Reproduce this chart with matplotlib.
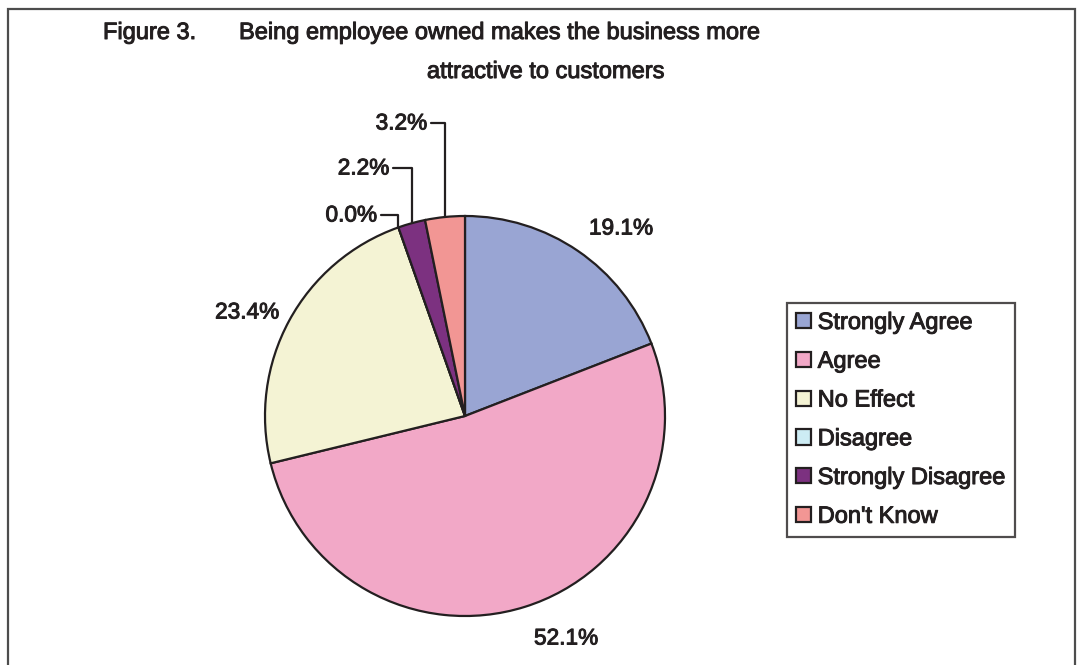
import numpy as np
import matplotlib.pyplot as plt
import matplotlib.patheffects as pe
from matplotlib.patches import Rectangle

plt.rcParams['font.family'] = ['Liberation Sans', 'DejaVu Sans']

categories = ['Strongly Agree', 'Agree', 'No Effect', 'Disagree',
              'Strongly Disagree', "Don't Know"]
shares = [19.1, 52.1, 23.4, 0.0, 2.2, 3.2]
colors = ['#99a5d3', '#f2a8c7', '#f4f3d4', '#cdecf4', '#7c3180', '#f29694']

ink = '#231f20'
# slightly heavier strokes than the plain regular face
heavy = [pe.withStroke(linewidth=0.7, foreground=ink)]

# figure is laid out in pixel units (1 data unit = 1 px, y up)
fig = plt.figure(figsize=(10.8, 6.65), dpi=100)
ax = fig.add_axes([0, 0, 1, 1])

cx, cy, r = 465, 249, 200
wedges, _ = ax.pie(shares, colors=colors, startangle=90, counterclock=False,
                   center=(cx, cy), radius=r,
                   wedgeprops=dict(edgecolor=ink, linewidth=1.6))
ax.set_xlim(0, 1080)
ax.set_ylim(0, 665)
ax.set_aspect('equal')
ax.axis('off')

# outer frame
ax.add_patch(Rectangle((8, -20), 1067, 676, fill=False, edgecolor='#4d4d4d',
                       linewidth=1.6, clip_on=False))

# title
title_kw = dict(fontsize=17, color=ink, va='center', path_effects=heavy)
fig.text(103 / 1080, 632 / 665, 'Figure 3.', **title_kw)
fig.text(239 / 1080, 632 / 665, 'Being employee owned makes the business more',
         **title_kw)
fig.text(546 / 1080, 593 / 665, 'attractive to customers', ha='center',
         **title_kw)

lab = ['%.1f%%' % v for v in shares]
lab_kw = dict(fontsize=16.3, color=ink, va='center', path_effects=heavy)

# big slices: plain labels
ax.text(621, 437, lab[0], ha='center', **lab_kw)
ax.text(566, 27, lab[1], ha='center', **lab_kw)
ax.text(247, 353, lab[2], ha='center', **lab_kw)


def rim(w):
    a = np.deg2rad((w.theta1 + w.theta2) / 2)
    return cx + r * np.cos(a), cy + r * np.sin(a)


# small slices: labels with leader lines
for i, (tx, ty) in zip([3, 4, 5], [(377, 450), (389, 497), (427, 542)]):
    ax.annotate(lab[i], xy=rim(wedges[i]), xytext=(tx, ty), ha='right',
                arrowprops=dict(arrowstyle='-', color=ink, lw=1.6,
                                shrinkA=1, shrinkB=0,
                                connectionstyle='angle,angleA=0,angleB=90,rad=0'),
                **lab_kw)

leg = ax.legend(wedges, categories, loc='upper left',
                bbox_to_anchor=(787, 362), bbox_transform=ax.transData,
                fontsize=17, frameon=True, fancybox=False, edgecolor=ink,
                handlelength=0.62, handleheight=0.62, handletextpad=0.3,
                labelspacing=0.71, borderpad=0.38, borderaxespad=0)
leg.get_frame().set_linewidth(1.6)
for t in leg.get_texts():
    t.set_color(ink)
    t.set_path_effects(heavy)

fig.savefig('out.png', dpi=100)
